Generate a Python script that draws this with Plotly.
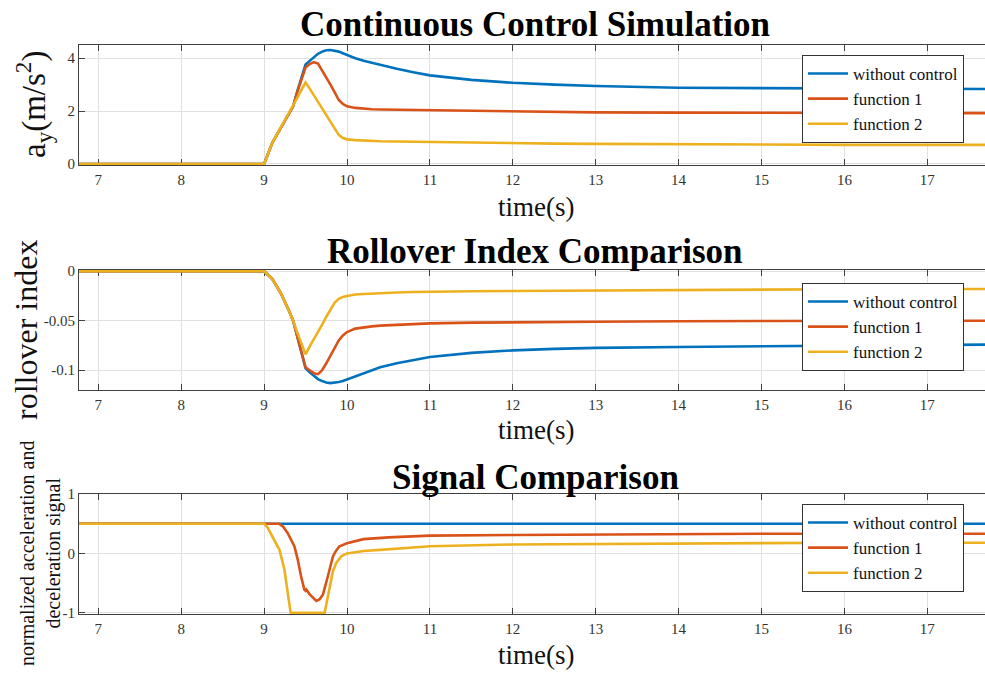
import plotly.graph_objects as go

# ---------------- data ----------------
series_names = ["without control", "function 1", "function 2"]
series_colors = ["#0072BD", "#D95319", "#EDB120"]

# Plot 1: lateral acceleration a_y (m/s^2)
t_acc = [6.0, 9.0, 9.1, 9.2, 9.3, 9.35, 9.4, 9.45, 9.5, 9.55,
         9.6, 9.65, 9.7, 9.75, 9.8, 9.85, 9.9, 9.95, 10.0, 10.1,
         10.2, 10.3, 10.4, 10.6, 10.8, 11.0, 11.5, 12.0, 12.5, 13.0,
         14.0, 15.0, 16.0, 17.0, 18.0]
acc_none = [0, 0, 0.81, 1.36, 1.9, 2.18, 2.75, 3.25, 3.76, 3.9,
            4.05, 4.17, 4.25, 4.3, 4.31, 4.29, 4.25, 4.19, 4.12, 4.0,
            3.9, 3.82, 3.75, 3.6, 3.47, 3.35, 3.18, 3.07, 3.0, 2.95,
            2.88, 2.86, 2.85, 2.84, 2.83]
acc_f1 = [0, 0, 0.81, 1.36, 1.9, 2.18, 2.72, 3.2, 3.65, 3.78,
          3.85, 3.8, 3.55, 3.3, 3.0, 2.72, 2.42, 2.27, 2.18, 2.12,
          2.09, 2.07, 2.06, 2.05, 2.04, 2.03, 2.0, 1.98, 1.96, 1.95,
          1.94, 1.93, 1.92, 1.92, 1.92]
acc_f2 = [0, 0, 0.81, 1.36, 1.9, 2.18, 2.5, 2.8, 3.08, 2.85,
          2.6, 2.35, 2.1, 1.87, 1.62, 1.35, 1.1, 0.98, 0.93, 0.9,
          0.88, 0.87, 0.86, 0.85, 0.84, 0.83, 0.8, 0.78, 0.77, 0.76,
          0.74, 0.73, 0.72, 0.72, 0.72]

# Plot 2: rollover index
t_roll = t_acc
roll_none = [0, 0, -0.008, -0.022, -0.04, -0.05, -0.066, -0.083, -0.098, -0.102,
             -0.106, -0.109, -0.111, -0.1125, -0.113, -0.1127, -0.112, -0.111, -0.1095, -0.106,
             -0.103, -0.1, -0.097, -0.093, -0.0895, -0.0867, -0.0825, -0.08, -0.0785, -0.0775,
             -0.0765, -0.0757, -0.075, -0.0745, -0.074]
roll_f1 = [0, 0, -0.008, -0.022, -0.04, -0.05, -0.066, -0.083, -0.097, -0.1,
           -0.103, -0.104, -0.1, -0.093, -0.085, -0.077, -0.07, -0.065, -0.0615, -0.058,
           -0.0565, -0.0557, -0.055, -0.054, -0.0533, -0.0527, -0.052, -0.0515, -0.0512, -0.051,
           -0.0505, -0.0503, -0.0501, -0.05, -0.05]
roll_f2 = [0, 0, -0.008, -0.022, -0.04, -0.05, -0.062, -0.074, -0.084, -0.076,
           -0.069, -0.062, -0.054, -0.046, -0.039, -0.032, -0.028, -0.026, -0.025, -0.0235,
           -0.023, -0.0225, -0.022, -0.0215, -0.021, -0.0207, -0.0203, -0.02, -0.0197, -0.0195,
           -0.019, -0.0185, -0.0182, -0.018, -0.018]

# Plot 3: normalized acceleration / deceleration signal
t_sig_none = [6.0, 18.0]
sig_none = [0.5, 0.5]
t_sig_f1 = [6.0, 9.18, 9.23, 9.285, 9.365, 9.405, 9.445, 9.485, 9.5, 9.51,
            9.55, 9.6, 9.63, 9.67, 9.71, 9.77, 9.83, 9.87, 9.91, 10.0,
            10.2, 10.5, 11.0, 12.0, 13.0, 14.0, 15.0, 16.0, 18.0]
sig_f1 = [0.5, 0.5, 0.45, 0.34, 0.12, -0.1, -0.38, -0.61, -0.63, -0.61,
          -0.69, -0.77, -0.8, -0.77, -0.69, -0.38, -0.05, 0.05, 0.12, 0.17,
          0.24, 0.27, 0.30, 0.31, 0.32, 0.325, 0.33, 0.33, 0.33]
t_sig_f2 = [6.0, 9.0, 9.04, 9.08, 9.13, 9.185, 9.245, 9.28, 9.31, 9.32,
            9.73, 9.76, 9.79, 9.83, 9.87, 9.93, 10.0, 10.2, 10.4, 10.7,
            11.0, 12.0, 13.0, 14.0, 15.0, 16.0, 18.0]
sig_f2 = [0.5, 0.5, 0.44, 0.34, 0.2, 0.06, -0.27, -0.6, -0.92, -1.0,
          -1.0, -0.8, -0.55, -0.3, -0.16, -0.05, 0.0, 0.04, 0.06, 0.09,
          0.12, 0.15, 0.16, 0.17, 0.175, 0.18, 0.18]

titles = ["Continuous Control Simulation", "Rollover Index Comparison", "Signal Comparison"]
x_title = "time(s)"
y_titles = ["a<sub>y</sub>(m/s<sup>2</sup>)", "rollover index",
            "normalized acceleration and<br>deceleration signal"]
x_ticks = [7, 8, 9, 10, 11, 12, 13, 14, 15, 16, 17]
y_tickvals = [[0, 2, 4], [0, -0.05, -0.1], [-1, 0, 1]]
y_ticktext = [["0", "2", "4"], ["0", "-0.05", "-0.1"], ["-1", "0", "1"]]

# ---------------- layout geometry ----------------
W, H = 985, 673
ML = 79
PW = W - ML
FONT = "Liberation Serif, Times New Roman, serif"
AX = "#404040"
GRID = "#e0e0e0"

plot_px = [(45, 165), (270, 390), (494, 614)]   # top, bottom in pixels
y_ranges = [[-0.04, 4.5], [-0.12, 0.0012], [-1.02, 1.0]]
legend_tops = [55, 283, 504]
title_y = [25, 251, 477]
xlabel_y = [207, 430, 655]
ylabel_x = [33, 26, 40]
ylabel_size = [33, 32, 20]

def px_x(p):
    return (p - ML) / PW

def px_y(p):
    return 1 - p / H

fig = go.Figure()

plot_data = [
    [(t_acc, acc_none), (t_acc, acc_f1), (t_acc, acc_f2)],
    [(t_roll, roll_none), (t_roll, roll_f1), (t_roll, roll_f2)],
    [(t_sig_none, sig_none), (t_sig_f1, sig_f1), (t_sig_f2, sig_f2)],
]

for i, group in enumerate(plot_data):
    sfx = "" if i == 0 else str(i + 1)
    for (tx, vy), name, col in zip(group, series_names, series_colors):
        fig.add_trace(go.Scatter(
            x=tx, y=vy, mode="lines", name=name,
            line=dict(color=col, width=2.6),
            xaxis="x" + sfx, yaxis="y" + sfx,
            legend="legend" + sfx,
        ))

layout = dict(
    template="none",
    width=W, height=H,
    margin=dict(l=ML, r=0, t=0, b=0, pad=0, autoexpand=False),
    paper_bgcolor="white", plot_bgcolor="white",
    font=dict(family=FONT, size=15, color="#222222"),
    showlegend=True,
    annotations=[],
)

for i in range(3):
    sfx = "" if i == 0 else str(i + 1)
    top, bot = plot_px[i]
    layout["xaxis" + sfx] = dict(
        domain=[0, 1], anchor="y" + sfx, automargin=False,
        range=[6.767, 17.696],
        tickvals=x_ticks, ticktext=[str(v) for v in x_ticks],
        ticks="inside", ticklen=6, tickcolor=AX, tickwidth=1,
        showline=True, linecolor=AX, linewidth=1, mirror="ticks",
        showgrid=True, gridcolor=GRID, gridwidth=1,
        zeroline=False, layer="below traces",
        tickfont=dict(family=FONT, size=15, color="#333333"),
        ticklabelstandoff=1,
    )
    layout["yaxis" + sfx] = dict(
        domain=[px_y(bot), px_y(top)], anchor="x" + sfx, automargin=False,
        range=y_ranges[i],
        tickvals=y_tickvals[i], ticktext=y_ticktext[i],
        ticks="inside", ticklen=6, tickcolor=AX, tickwidth=1,
        showline=True, linecolor=AX, linewidth=1, mirror=False,
        showgrid=True, gridcolor=GRID, gridwidth=1,
        zeroline=False, layer="below traces",
        tickfont=dict(family=FONT, size=15, color="#333333"),
    )
    layout["legend" + sfx] = dict(
        x=px_x(802), y=px_y(legend_tops[i]), xanchor="left", yanchor="top",
        bgcolor="white", bordercolor="#333333", borderwidth=1,
        font=dict(family=FONT, size=17, color="#111111"),
        tracegroupgap=0, itemwidth=40,
    )
    layout["annotations"].append(dict(
        text="<b>" + titles[i] + "</b>", xref="paper", yref="paper",
        x=px_x(535), y=px_y(title_y[i]), xanchor="center", yanchor="middle",
        showarrow=False, font=dict(family=FONT, size=35, color="black"),
    ))
    layout["annotations"].append(dict(
        text=x_title, xref="paper", yref="paper",
        x=px_x(536), y=px_y(xlabel_y[i]), xanchor="center", yanchor="middle",
        showarrow=False, font=dict(family=FONT, size=27, color="#111111"),
    ))
    layout["annotations"].append(dict(
        text=y_titles[i], xref="paper", yref="paper", textangle=-90,
        x=px_x(ylabel_x[i]), y=px_y((top + bot) / 2), xanchor="center", yanchor="middle",
        showarrow=False, font=dict(family=FONT, size=ylabel_size[i], color="#111111"),
    ))

fig.update_layout(**layout)
fig.write_html("out.html")
